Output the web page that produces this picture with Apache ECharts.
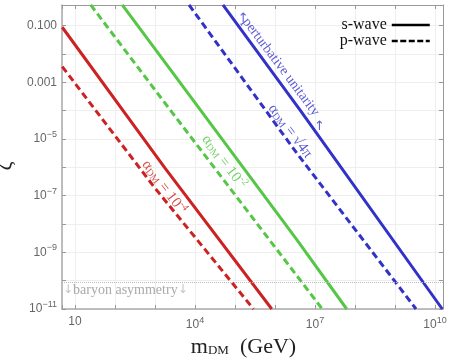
<!DOCTYPE html>
<html>
<head>
<meta charset="utf-8">
<script src="https://cdn.jsdelivr.net/npm/echarts@6/dist/echarts.min.js"></script>
<style>
  html, body { margin: 0; padding: 0; background: #fff; }
  #chart { width: 457px; height: 360px; }
</style>
</head>
<body>
<div id="chart"></div>
<script>
  // axis extents, log10 units
  const xRange = [0.675, 10.2];
  const yRange = [-11, -0.27];

  // tick labels (exponent -> text)
  const xTickExps = [1, 4, 7, 10];
  const xTickLabels = ['10', '10{sup|4}', '10{sup|7}', '10{sup|10}'];
  const yTickExps = [-11, -9, -7, -5, -3, -1];
  const yTickLabels = ['10{sup|−11}', '10{sup|−9}', '10{sup|−7}', '10{sup|−5}', '0.001', '0.100'];

  // m_DM (GeV) / zeta
  // alpha_DM = 1e-4
  const mS4 = [4.8, 1780, 8.3e5];
  const zS4 = [0.088, 9.4e-7, 1e-11];
  const mP4 = [4.8, 1000, 2.9e5];
  const zP4 = [3.6e-3, 1.85e-7, 1e-11];
  // alpha_DM = 1e-2
  const mS2 = [152, 3.5e6, 6.2e7];
  const zS2 = [0.54, 2.8e-9, 1e-11];
  const mP2 = [24.7, 1780, 1.52e7];
  const zP2 = [0.54, 1.84e-4, 1e-11];
  // alpha_DM = sqrt(4 pi)
  const mSU = [5.0e4, 4.2e6, 1.52e10];
  const zSU = [0.54, 1.07e-4, 1e-11];
  const mPU = [7.1e3, 3.5e6, 3.35e9];
  const zPU = [0.54, 3.17e-6, 1e-11];

  const baryonZeta = 8.7e-11;

  // annotations: anchor (m, zeta), text
  const noteM = [1680, 5.3e4, 2.4e6, 1.4e6, 1.6e5, 1.3e7];
  const noteZ = [2.0e-7, 1.56e-6, 1.9e-5, 3.5e-3, 0.172, 2.8e-5];
  const noteText = [
    '{a|α}{s|DM}{a| = 10}{p|-4}',
    '{a|α}{s|DM}{a| = 10}{p|-2}',
    '{a|α}{s|DM}{a| = √4π}',
    '{u|perturbative unitarity}',
    '{r|↑}',
    '{r|↑}'
  ];

  const RED = '#cc2222';
  const GREEN = '#55c646';
  const BLUE = '#3232c8';
  const noteColor = [RED, GREEN, BLUE, BLUE, BLUE, BLUE];
  const noteRotate = [-53, -53, -53, -53, 0, 0];

  const toLog = (ms, zs) => ms.map((m, i) => [Math.log10(m), Math.log10(zs[i])]);
  const pickLabel = (exps, labels) => v => {
    const i = exps.findIndex(e => Math.abs(e - v) < 1e-6);
    return i < 0 ? '' : labels[i];
  };

  const SERIF = 'Liberation Serif';
  const tickRich = {
    sup: { fontSize: 9, color: '#666', fontFamily: 'Liberation Sans', padding: [0, 0, 9, 0] }
  };

  function curve(name, ms, zs, color, dashed) {
    return {
      name: name,
      type: 'line',
      data: toLog(ms, zs),
      symbol: 'none',
      silent: true,
      lineStyle: { color: color, width: 3, type: dashed ? [7, 4] : 'solid' },
      z: 3
    };
  }

  const chart = echarts.init(document.getElementById('chart'));

  chart.setOption({
    animation: false,
    backgroundColor: '#fff',
    grid: { left: 62, right: 14, top: 5, bottom: 51, outerBoundsMode: 'none' },
    legend: {
      data: ['s-wave', 'p-wave'],
      orient: 'vertical',
      right: 26,
      top: 17,
      padding: 0,
      align: 'right',
      itemWidth: 38,
      itemHeight: 12,
      itemGap: 0,
      selectedMode: false,
      itemStyle: { opacity: 0 },
      lineStyle: { width: 2.5 },
      textStyle: { fontFamily: SERIF, fontSize: 16, lineHeight: 15, color: '#111' }
    },
    xAxis: [{
      type: 'value',
      min: xRange[0],
      max: xRange[1],
      splitNumber: 9,
      name: '{m|m}{s|DM}{m|  (GeV)}',
      nameLocation: 'middle',
      nameGap: 20,
      nameTextStyle: {
        padding: [0, 18, 0, 0],
        rich: {
          m: { fontFamily: SERIF, fontSize: 22, color: '#222' },
          s: { fontFamily: SERIF, fontSize: 13, color: '#222', padding: [8, 0, 0, 0] }
        }
      },
      axisLine: { lineStyle: { color: '#aaa', width: 1.5 } },
      axisTick: { inside: true, length: 4, lineStyle: { color: '#999' } },
      splitLine: { show: true, lineStyle: { color: '#eeeeee' } },
      axisLabel: {
        margin: 7,
        color: '#666',
        fontFamily: 'Liberation Sans',
        fontSize: 12,
        formatter: pickLabel(xTickExps, xTickLabels),
        rich: tickRich
      }
    }, {
      type: 'value',
      position: 'top',
      min: xRange[0],
      max: xRange[1],
      splitNumber: 9,
      axisLine: { lineStyle: { color: '#999', width: 1 } },
      axisTick: { inside: true, length: 4, lineStyle: { color: '#999' } },
      axisLabel: { show: false },
      splitLine: { show: false }
    }],
    yAxis: [{
      type: 'value',
      min: yRange[0],
      max: yRange[1],
      splitNumber: 10,
      name: '{z|ζ}{g| }',
      nameLocation: 'middle',
      nameRotate: 90,
      nameGap: 36,
      nameTextStyle: {
        rich: {
          z: { fontFamily: SERIF, fontSize: 22, color: '#222' },
          g: { fontSize: 10, width: 18 }
        }
      },
      axisLine: { show: true, lineStyle: { color: '#aaa', width: 1.5 } },
      axisTick: { show: true, inside: true, length: 4, lineStyle: { color: '#999' } },
      splitLine: { show: true, lineStyle: { color: '#eeeeee' } },
      axisLabel: {
        margin: 5,
        color: '#666',
        fontFamily: 'Liberation Sans',
        fontSize: 12,
        formatter: pickLabel(yTickExps, yTickLabels),
        rich: tickRich
      }
    }, {
      type: 'value',
      position: 'right',
      min: yRange[0],
      max: yRange[1],
      splitNumber: 10,
      axisLine: { show: true, lineStyle: { color: '#999', width: 1 } },
      axisTick: { show: true, inside: true, length: 4, lineStyle: { color: '#999' } },
      axisLabel: { show: false },
      splitLine: { show: false }
    }],
    series: [
      curve('a4s', mS4, zS4, RED, false),
      curve('a4p', mP4, zP4, RED, true),
      curve('a2s', mS2, zS2, GREEN, false),
      curve('a2p', mP2, zP2, GREEN, true),
      curve('aus', mSU, zSU, BLUE, false),
      curve('aup', mPU, zPU, BLUE, true),
      // legend-only entries
      { name: 's-wave', type: 'line', data: [], symbol: 'none',
        lineStyle: { color: '#000', width: 2.5 }, itemStyle: { color: '#000' } },
      { name: 'p-wave', type: 'line', data: [], symbol: 'none',
        lineStyle: { color: '#000', width: 2.5, type: [6, 2.5] }, itemStyle: { color: '#000' } },
      {
        name: 'notes',
        type: 'scatter',
        symbolSize: 0,
        silent: true,
        z: 4,
        data: noteM.map((m, i) => ({
          value: [Math.log10(m), Math.log10(noteZ[i])],
          label: {
            show: true,
            position: 'inside',
            rotate: noteRotate[i],
            formatter: noteText[i],
            rich: {
              a: { fontFamily: SERIF, fontSize: 15, color: noteColor[i] },
              u: { fontFamily: SERIF, fontSize: 14, color: noteColor[i] },
              s: { fontFamily: SERIF, fontSize: 10, color: noteColor[i], padding: [6, 0, 0, 0] },
              p: { fontFamily: SERIF, fontSize: 10, color: noteColor[i], padding: [0, 0, 9, 0] },
              r: { fontFamily: 'DejaVu Sans', fontSize: 13, color: noteColor[i] }
            }
          }
        })),
        markLine: {
          silent: true,
          symbol: ['none', 'none'],
          lineStyle: { color: '#bbb', width: 1, type: 'dotted' },
          data: [{ yAxis: Math.log10(baryonZeta) }],
          label: {
            show: true,
            position: 'insideStartBottom',
            distance: 1,
            formatter: '{r|↓}{t|baryon asymmetry}{r|↓}',
            rich: {
              t: { fontFamily: SERIF, fontSize: 14, color: '#aaa' },
              r: { fontFamily: 'DejaVu Sans', fontSize: 12, color: '#c4c4c4' }
            }
          }
        }
      }
    ]
  });
</script>
</body>
</html>
